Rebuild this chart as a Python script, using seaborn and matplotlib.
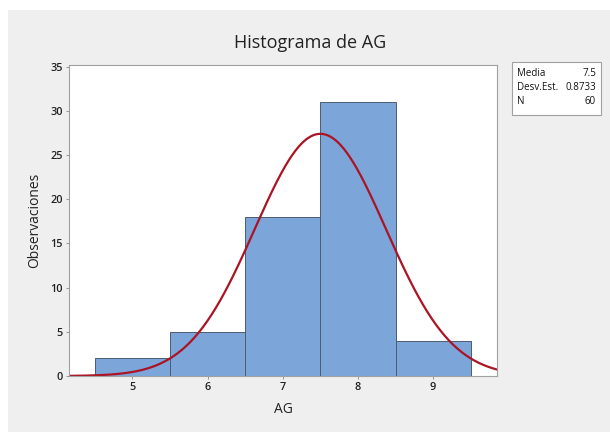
import numpy as np
import pandas as pd
import seaborn as sns
import matplotlib
matplotlib.use("Agg")
import matplotlib.pyplot as plt
from matplotlib.patches import Rectangle

# Data
bin_centers = [5, 6, 7, 8, 9]
counts = [2, 5, 18, 31, 4]
bin_edges = [4.5, 5.5, 6.5, 7.5, 8.5, 9.5]
mean_val = 7.5
sd_val = 0.8733
n_val = 60
x_ticks = [5, 6, 7, 8, 9]
y_ticks = [0, 5, 10, 15, 20, 25, 30, 35]

sns.set_theme(style="white")
plt.rcParams['font.family'] = ['Open Sans', 'DejaVu Sans']

fig = plt.figure(figsize=(6.1, 4.32), dpi=100, facecolor='white')
# light gray panel background
fig.patches.append(Rectangle((8/610, 0), 1 - 8/610, 1 - 10/432, transform=fig.transFigure,
                             facecolor='#efefef', edgecolor='none', zorder=-10))

ax = fig.add_axes([69/610, (432-376)/432, (497-69)/610, (376-65)/432])
ax.set_facecolor('white')

df = pd.DataFrame({"AG": bin_centers, "count": counts})
sns.histplot(data=df, x="AG", weights="count", bins=bin_edges, ax=ax,
             color='#7ca5da', edgecolor='#4e5c70', linewidth=0.7, alpha=1.0)

xs = np.linspace(4.156, 9.85, 400)
pdf = n_val * 1.0 / (sd_val * np.sqrt(2 * np.pi)) * np.exp(-0.5 * ((xs - mean_val) / sd_val) ** 2)
ax.plot(xs, pdf, color='#ab1424', linewidth=1.6)

ax.set_xlim(4.156, 9.85)
ax.set_ylim(0, 35.2)
ax.set_xticks(x_ticks)
ax.set_yticks(y_ticks)
ax.tick_params(axis='both', labelsize=7.8, length=2.5, width=0.6, color='#888888',
               labelcolor='#222222', direction='out', bottom=True, left=True, pad=2)
for lab in ax.get_xticklabels() + ax.get_yticklabels():
    lab.set_fontweight('semibold')
for s in ax.spines.values():
    s.set_color('#a0a0a0')
    s.set_linewidth(0.8)

ax.set_xlabel("AG", fontsize=10, labelpad=6, color='#222222')
ax.set_ylabel("Observaciones", fontsize=10, labelpad=6, color='#222222')
fig.text(310/610, 1 - 43/432, "Histograma de AG", ha='center', va='center', fontsize=13, color='#222222')

# Stats box
box = Rectangle((512/610, 1 - 115/432), (601-512)/610, (115-62)/432, transform=fig.transFigure,
                facecolor='white', edgecolor='#a0a0a0', linewidth=0.8)
fig.patches.append(box)
rows = [("Media", "7.5"), ("Desv.Est.", "0.8733"), ("N", str(n_val))]
for i, (lab, val) in enumerate(rows):
    yy = 1 - (73 + i*14.5)/432
    fig.text(517/610, yy, lab, ha='left', va='center', fontsize=7, color='#111111')
    fig.text(596/610, yy, val, ha='right', va='center', fontsize=7, color='#111111')

fig.savefig("out.png", dpi=100)
